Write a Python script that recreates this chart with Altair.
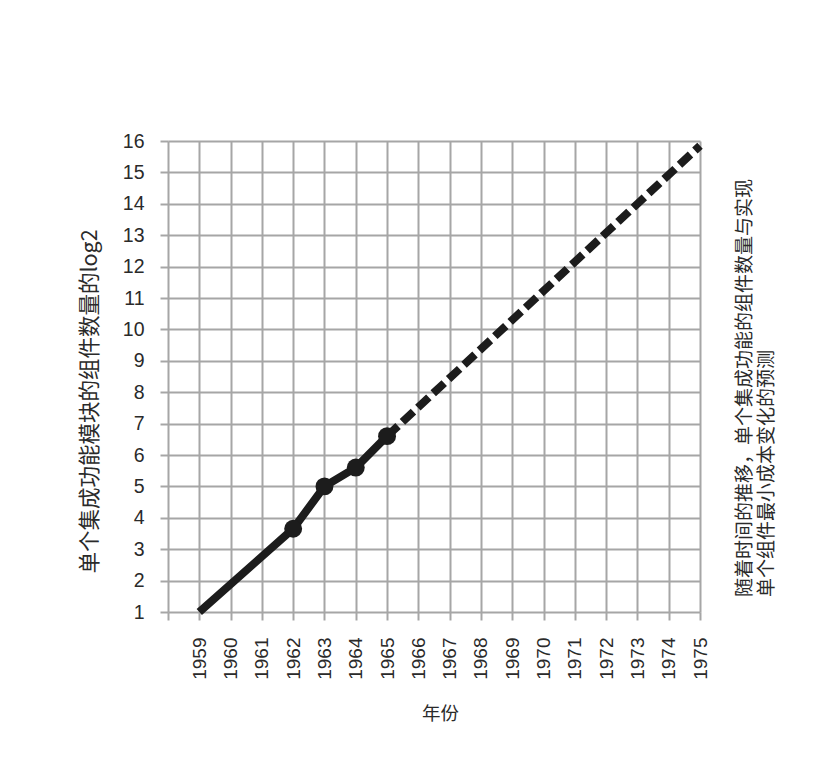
import altair as alt
import pandas as pd

# ---- data ----
years_actual = [1959, 1962, 1963, 1964, 1965]
values_actual = [1.0, 3.65, 5.0, 5.6, 6.6]
point_years = [1962, 1963, 1964, 1965]
point_values = [3.65, 5.0, 5.6, 6.6]
years_proj = [1965, 1975]
values_proj = [6.6, 15.85]
x_ticks = list(range(1958, 1976))
y_ticks = list(range(1, 17))
x_title = "年份"
y_title = "单个集成功能模块的组件数量的log2"
side_note = ["随着时间的推移，单个集成功能的组件数量与实现", "单个组件最小成本变化的预测"]

INK = "#1c1c1c"
GRID = "#a6a6a6"
TXT = "#2a2a2a"
NUM_FONT = "Liberation Sans"
CJK_FONT = "Noto Sans CJK SC"

df_line = pd.DataFrame({"year": years_actual, "value": values_actual})
df_pts = pd.DataFrame({"year": point_years, "value": point_values})
df_proj = pd.DataFrame({"year": years_proj, "value": values_proj})
df_note = pd.DataFrame({"k": [0]})

x_scale = alt.Scale(domain=[1958, 1975], nice=False, zero=False)
y_scale = alt.Scale(domain=[1, 16], nice=False, zero=False)

x_axis = alt.Axis(
    values=x_ticks, format="d",
    labelExpr="datum.value == 1958 ? '' : datum.label",
    labelAngle=270, labelAlign="right", labelBaseline="middle",
    labelFont=NUM_FONT, labelFontSize=19, labelColor=TXT, labelPadding=17,
    labelOverlap=False,
    tickSize=8, tickColor=GRID, tickWidth=2,
    grid=True, gridColor=GRID, gridWidth=2, gridOpacity=1,
    domain=False,
    title=x_title, titleFont=CJK_FONT, titleFontSize=18.5, titleFontWeight="normal",
    titleColor=TXT, titleX=272, titleY=101, titleAlign="center",
    titleBaseline="middle", titleAngle=0,
)
y_axis = alt.Axis(
    values=y_ticks, format="d",
    labelFont=NUM_FONT, labelFontSize=19.5, labelColor=TXT, labelPadding=16,
    labelOverlap=False,
    tickSize=8, tickColor=GRID, tickWidth=2,
    grid=True, gridColor=GRID, gridWidth=2, gridOpacity=1,
    domain=False,
    title=y_title, titleFont=CJK_FONT, titleFontSize=21.5, titleFontWeight="normal",
    titleColor=TXT, titleX=-78, titleY=260, titleAngle=270,
    titleAlign="center", titleBaseline="middle",
)

X = alt.X("year:Q", scale=x_scale, axis=x_axis)
Y = alt.Y("value:Q", scale=y_scale, axis=y_axis)

line = alt.Chart(df_line).mark_line(
    color=INK, strokeWidth=8, strokeJoin="round", strokeCap="butt"
).encode(x=X, y=Y)

proj = alt.Chart(df_proj).mark_line(
    color=INK, strokeWidth=8, strokeDash=[15, 6], strokeCap="butt"
).encode(x=X, y=Y)

pts = alt.Chart(df_pts).mark_circle(
    color=INK, size=320, opacity=1
).encode(x=X, y=Y)

note = alt.Chart(df_note).mark_text(
    text=side_note, angle=270, align="left", baseline="top",
    font=CJK_FONT, fontSize=19, lineHeight=22, color=TXT
).encode(x=alt.value(568), y=alt.value(456))

chart = alt.layer(line, proj, pts, note).properties(
    width=532, height=471,
    autosize=alt.AutoSizeParams(type="none"),
    padding={"left": 160, "top": 133, "right": 110, "bottom": 130},
    background="white",
).configure_view(stroke=None)

chart.save("out.html", embed_options={"renderer": "svg", "actions": False})
